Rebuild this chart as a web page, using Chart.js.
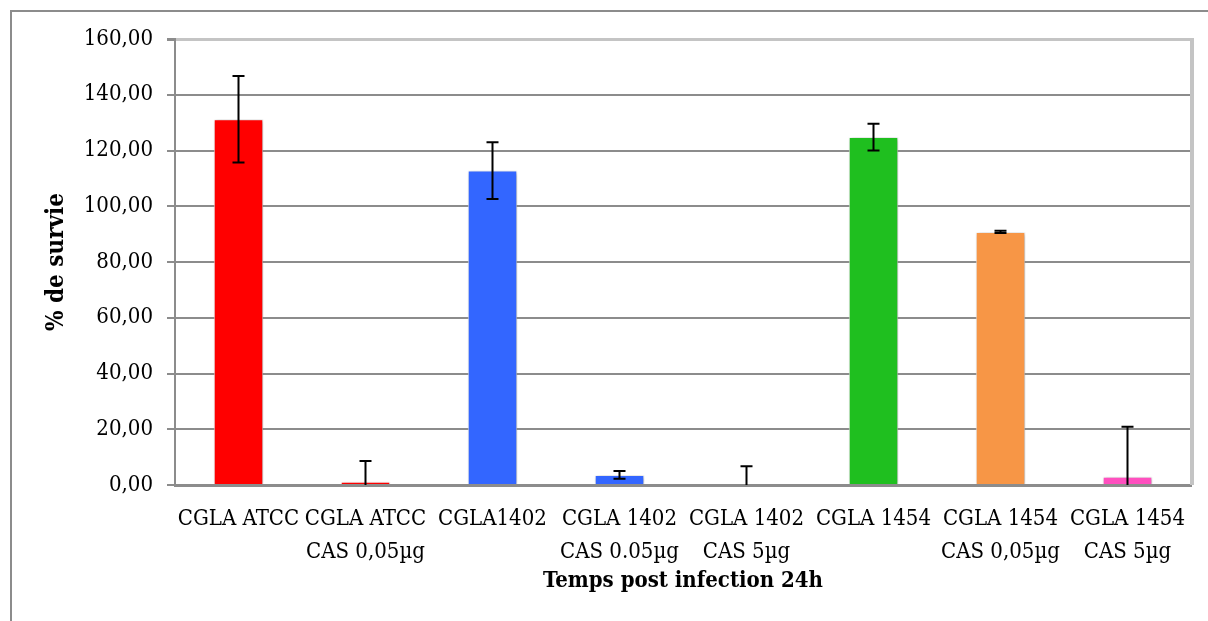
<!DOCTYPE html>
<html>
<head>
<meta charset="utf-8">
<script src="https://cdn.jsdelivr.net/npm/chart.js@4.4.0/dist/chart.umd.min.js"></script>
<style>
  body { margin: 0; background: #fff; overflow: hidden; }
  #cadre { position: absolute; left: 10px; top: 10px; width: 1300px; height: 700px; border: 2px solid #8c8c8c; }
  #wrap { position: absolute; left: 0; top: 0; width: 1208px; height: 621px; }
</style>
</head>
<body>
<div id="cadre"></div>
<div id="wrap"><canvas id="myChart" width="1208" height="621"></canvas></div>
<script>
// donnees
var souches = [
  'CGLA ATCC',
  ['CGLA ATCC', 'CAS 0,05µg'],
  'CGLA1402',
  ['CGLA 1402', 'CAS 0.05µg'],
  ['CGLA 1402', 'CAS 5µg'],
  'CGLA 1454',
  ['CGLA 1454', 'CAS 0,05µg'],
  ['CGLA 1454', 'CAS 5µg']
];
var survie = [131.2, 1.2, 112.8, 3.6, 0, 124.8, 90.8, 3.0];
var erreurs = [15.5, 7.4, 10.2, 1.4, 6.7, 4.8, 0.4, 17.9];
var couleurs = ['#ff0000', '#ff0000', '#3366ff', '#3366ff', '#3366ff', '#1fbf1f', '#f79646', '#ff4fbf'];
var graduations = [0, 20, 40, 60, 80, 100, 120, 140, 160];

var police = "'DejaVu Serif Condensed', 'Liberation Serif', serif";

// barres d'erreur (pas de support natif dans Chart.js)
var barresErreur = {
  id: 'barresErreur',
  beforeDatasetsDraw: function(chart) {
    var ctx = chart.ctx;
    ctx.save();
    ctx.shadowColor = 'rgba(0,0,0,0.35)';
    ctx.shadowBlur = 4;
    ctx.shadowOffsetX = 1;
    ctx.shadowOffsetY = 1;
  },
  afterDatasetsDraw: function(chart) {
    var ctx = chart.ctx;
    ctx.restore();
    var area = chart.chartArea;
    var y = chart.scales.y;
    var meta = chart.getDatasetMeta(0);
    ctx.save();
    // bordure droite du trace
    ctx.strokeStyle = '#c4c4c4';
    ctx.lineWidth = 4;
    ctx.beginPath();
    ctx.moveTo(area.right + 1, area.top - 1);
    ctx.lineTo(area.right + 1, area.bottom);
    ctx.stroke();

    ctx.strokeStyle = '#000';
    ctx.lineWidth = 2;
    meta.data.forEach(function(bar, i) {
      var haut = survie[i] + erreurs[i];
      var bas = survie[i] - erreurs[i];
      var yh = y.getPixelForValue(haut);
      var yb = y.getPixelForValue(Math.max(bas, 0));
      ctx.beginPath();
      ctx.moveTo(bar.x, yh);
      ctx.lineTo(bar.x, yb);
      ctx.moveTo(bar.x - 6, yh);
      ctx.lineTo(bar.x + 6, yh);
      if (bas >= 0) {
        ctx.moveTo(bar.x - 6, yb);
        ctx.lineTo(bar.x + 6, yb);
      }
      ctx.stroke();
    });
    ctx.restore();
  }
};

var ctx = document.getElementById('myChart').getContext('2d');

var myChart = new Chart(ctx, {
  type: 'bar',
  data: {
    labels: souches,
    datasets: [{
      data: survie,
      backgroundColor: couleurs,
      borderColor: 'rgba(255,255,255,0.9)',
      borderWidth: 1,
      categoryPercentage: 1,
      barPercentage: 0.39
    }]
  },
  plugins: [barresErreur],
  options: {
    responsive: false,
    animation: false,
    layout: { padding: { left: 0, right: 17, top: 39, bottom: 0 } },
    plugins: {
      legend: { display: false },
      tooltip: { enabled: false }
    },
    scales: {
      x: {
        afterFit: function(scale) { scale.height = 136; },
        grid: { display: false, drawTicks: false },
        border: { color: '#8c8c8c', width: 3 },
        ticks: {
          color: '#000',
          padding: 18,
          maxRotation: 0,
          autoSkip: false,
          font: { family: police, size: 22, lineHeight: 1.5 }
        },
        title: {
          display: true,
          text: 'Temps post infection 24h',
          color: '#000',
          padding: { top: 27, bottom: 27 },
          font: { family: police, size: 22, weight: 'bold', lineHeight: 1.2 }
        }
      },
      y: {
        min: 0,
        max: 160,
        afterFit: function(scale) { scale.width = 175; },
        afterBuildTicks: function(scale) {
          scale.ticks = graduations.map(function(v) { return { value: v }; });
        },
        grid: {
          color: function(c) { return c.tick && c.tick.value === 160 ? '#c4c4c4' : '#8c8c8c'; },
          lineWidth: function(c) { return c.tick && c.tick.value === 160 ? 3 : 2; },
          tickLength: 8,
          tickColor: '#8c8c8c'
        },
        border: { color: '#8c8c8c', width: 2 },
        ticks: {
          color: '#000',
          padding: 14,
          font: { family: police, size: 22 },
          callback: function(value) {
            return value.toFixed(2).replace('.', ',');
          }
        },
        title: {
          display: true,
          text: '% de survie',
          color: '#000',
          padding: { top: 42, bottom: 42 },
          font: { family: police, size: 24, weight: 'bold', lineHeight: 1.2 }
        }
      }
    }
  }
});
</script>
</body>
</html>
